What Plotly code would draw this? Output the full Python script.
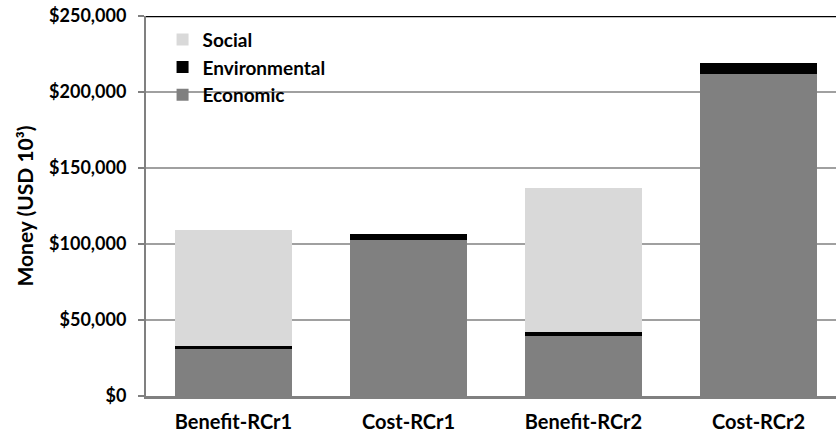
import plotly.graph_objects as go

categories = ["Benefit-RCr1", "Cost-RCr1", "Benefit-RCr2", "Cost-RCr2"]
economic = [31200, 102600, 39600, 211800]
environmental = [2000, 4000, 2300, 7500]
social = [76300, 0, 95100, 0]
y_ticks = [0, 50000, 100000, 150000, 200000, 250000]

FONT = "Lato"

fig = go.Figure()
fig.add_trace(go.Bar(name="Economic", x=categories, y=economic, marker=dict(color="#808080", line=dict(width=0))))
fig.add_trace(go.Bar(name="Environmental", x=categories, y=environmental, marker=dict(color="#000000", line=dict(width=0))))
fig.add_trace(go.Bar(name="Social", x=categories, y=social, marker=dict(color="#d9d9d9", line=dict(width=0))))

fig.update_layout(
    width=836, height=444,
    margin=dict(l=146, r=0, t=16, b=48),
    barmode="stack", bargap=0.326,
    plot_bgcolor="white", paper_bgcolor="white",
    font=dict(family=FONT, size=18, color="black"),
    legend=dict(x=0.024, y=0.988, xanchor="left", yanchor="top", traceorder="reversed",
                font=dict(family=FONT, size=19, color="black", weight="bold"),
                bgcolor="rgba(0,0,0,0)", itemwidth=30, tracegroupgap=0),
    showlegend=True,
)
fig.update_xaxes(
    range=[-0.5, 3.443], showgrid=False,
    showline=True, linecolor="#808080", linewidth=3,
    ticks="", ticklabelstandoff=6,
    tickfont=dict(family=FONT, size=20, color="black", weight="bold"),
)
fig.update_yaxes(
    range=[0, 250000], tickvals=y_ticks, tickformat="$,.0f",
    showgrid=True, gridcolor="#a0a0a0", gridwidth=1.5,
    showline=True, linecolor="#808080", linewidth=2,
    ticks="outside", ticklen=6, tickcolor="#808080", tickwidth=1.5,
    zeroline=False, ticklabelstandoff=8,
    tickfont=dict(family=FONT, size=18, color="black", weight="bold"),
    title=dict(text="Money (USD 10³)", font=dict(family=FONT, size=21, color="black", weight="bold"), standoff=10),
)
fig.add_shape(type="line", xref="paper", yref="y", x0=0, x1=1, y0=250000, y1=250000,
              line=dict(color="black", width=2.5))

fig.write_html("out.html")
